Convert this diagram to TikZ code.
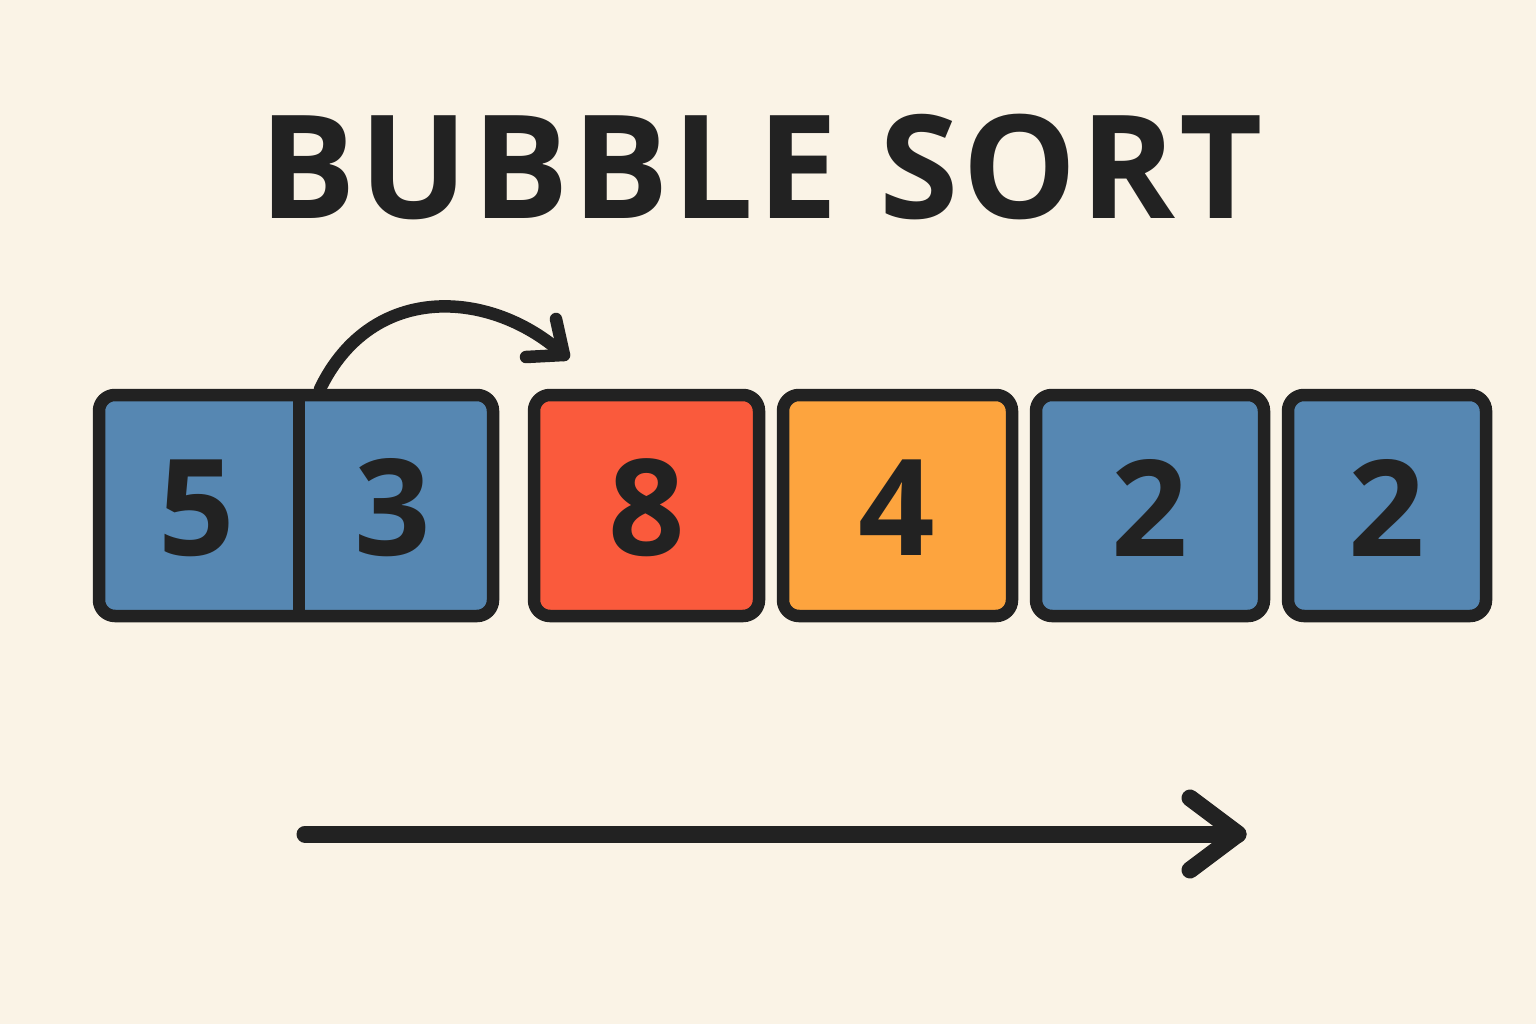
\documentclass[tikz,border=0pt]{standalone}
\usepackage{fontspec}
\setmainfont{Open Sans}
\newfontfamily\titlefont[LetterSpace=2.5]{Open Sans}
\definecolor{bgc}{HTML}{FAF3E6}
\definecolor{ink}{HTML}{222222}
\definecolor{cblue}{HTML}{5687B2}
\definecolor{cred}{HTML}{FA5A3C}
\definecolor{corange}{HTML}{FDA43E}
\tikzset{
  cell/.style={draw=ink, line width=12.5pt, rounded corners=16pt, inner sep=0pt,
    minimum height=221pt},
  digit/.style={text=ink, inner sep=0pt, font=\fontsize{134}{134}\selectfont\bfseries},
  swaparrow/.style={draw=ink, line width=12.5pt, line cap=round, line join=round},
  passarrow/.style={draw=ink, line width=17pt, line cap=round, line join=round},
}
\begin{document}
\begin{tikzpicture}[x=1pt,y=-1pt]
\useasboundingbox (0,0) rectangle (1536,1024);
\fill[bgc] (0,0) rectangle (1536,1024);
% title
\node[text=ink, inner sep=0pt, font=\titlefont\fontsize{144}{144}\selectfont\bfseries] (title) at (761,166.5) {BUBBLE SORT};
% cells
\node[cell, fill=cblue, minimum width=394pt] (pair) at (296,505.5) {};
\coordinate (d1) at (299,395);
\coordinate (d2) at (299,616);
\draw[ink, line width=12pt] (d1) -- (d2);
\node[digit] (n5) at (197,508) {5};
\node[digit] (n3) at (393,508) {3};
\node[cell, fill=cred, minimum width=225pt] (c8) at (646.5,505.5) {};
\node[digit] (n8) at (647,508) {8};
\node[cell, fill=corange, minimum width=229pt] (c4) at (897.5,505.5) {};
\node[digit] (n4) at (897,508) {4};
\node[cell, fill=cblue, minimum width=228pt] (c2a) at (1150,505.5) {};
\node[digit] (n2a) at (1150,508) {2};
\node[cell, fill=cblue, minimum width=198pt] (c2b) at (1387,505.5) {};
\node[digit] (n2b) at (1387,508) {2};
% swap arrow
\coordinate (s1) at (320,389);
\coordinate (t1) at (564,355);
\coordinate (a1) at (526,357);
\coordinate (b1) at (556,319);
\draw[swaparrow] (s1) .. controls (372,281) and (492,289) .. (t1);
\draw[swaparrow] (a1) -- (t1) -- (b1);
% pass arrow
\coordinate (s2) at (305,834);
\coordinate (t2) at (1238,834);
\coordinate (a2) at (1190,798);
\coordinate (b2) at (1190,870);
\draw[passarrow] (s2) -- (t2);
\draw[passarrow] (a2) -- (t2) -- (b2);
\end{tikzpicture}
\end{document}
